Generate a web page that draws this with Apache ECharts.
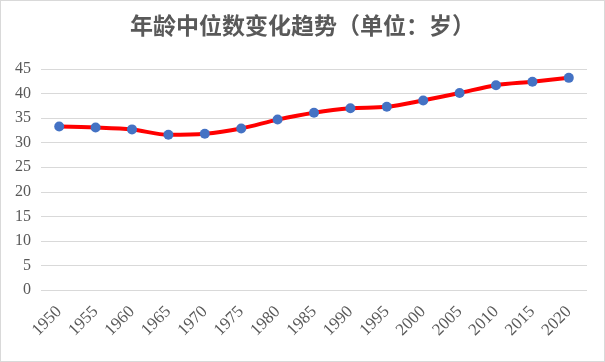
<!DOCTYPE html>
<html><head><meta charset="utf-8">
<script src="https://cdn.jsdelivr.net/npm/echarts@6/dist/echarts.min.js"></script>
<style>html,body{margin:0;padding:0;background:#fff}#c{width:603px;height:360px;border:1px solid #d9d9d9}</style>
</head><body><div id="c"></div>
<script>
const years = ['1950','1955','1960','1965','1970','1975','1980','1985','1990','1995','2000','2005','2010','2015','2020'];
const medianAge = [33.3,33.1,32.7,31.6,31.8,32.9,34.7,36.1,37.0,37.3,38.6,40.1,41.7,42.4,43.2];
const yTicks = [0,5,10,15,20,25,30,35,40,45];
const title = '年龄中位数变化趋势（单位：岁）';
const serif = 'Liberation Serif';
const chart = echarts.init(document.getElementById('c'));
chart.setOption({
  animation:false,
  title:{text:title,left:'center',top:8,textStyle:{fontFamily:'Noto Sans CJK SC',fontWeight:'bold',fontSize:23,color:'#595959'}},
  grid:{left:40,right:17,top:68,bottom:71},
  xAxis:{type:'category',data:years,boundaryGap:true,
    axisLine:{show:false},axisTick:{show:false},
    axisLabel:{rotate:45,fontFamily:serif,fontSize:17,color:'#595959',margin:19}},
  yAxis:{type:'value',min:yTicks[0],max:yTicks[yTicks.length-1],interval:5,
    axisLine:{show:false},axisTick:{show:false},
    splitLine:{lineStyle:{color:'#d9d9d9',width:1}},
    axisLabel:{fontFamily:serif,fontSize:16,color:'#595959',margin:10}},
  series:[{type:'line',data:medianAge,smooth:0.3,symbol:'circle',symbolSize:10,
    lineStyle:{color:'#ff0000',width:4},itemStyle:{color:'#4472c4'}}]
});
</script></body></html>
